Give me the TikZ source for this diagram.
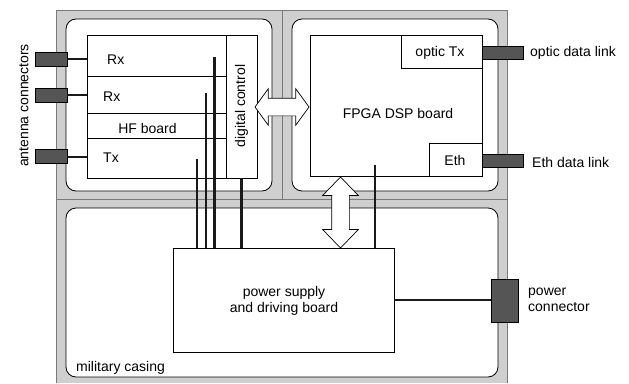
\documentclass[tikz,border=0pt]{standalone}
\usepackage{fontspec}
\setmainfont{Liberation Sans}
\usetikzlibrary{shapes.arrows}

\definecolor{bandgrey}{HTML}{CFCFCF}
\definecolor{edgegrey}{HTML}{7A7A7A}
\definecolor{conngrey}{HTML}{555555}
\definecolor{wiregrey}{HTML}{1A1A1A}

\tikzset{
  board/.style={draw, fill=white, inner sep=0pt, line width=0.8pt},
  bay/.style={draw, fill=white, rounded corners=10pt, inner sep=0pt, line width=0.8pt},
  plug/.style={draw, fill=conngrey, inner sep=0pt, line width=0.6pt},
  wire/.style={draw=wiregrey, line width=2.3pt},
  dblarrow/.style={double arrow, draw, fill=white, inner sep=0pt, line width=0.7pt},
  lbl/.style={inner sep=0pt, anchor=west},
}

\begin{document}
\begin{tikzpicture}[x=1pt, y=-1pt, font=\fontsize{14}{16}\selectfont]
\useasboundingbox (0,0) rectangle (629,383);

% Gehaeuse
\fill[bandgrey] (56,10) rectangle (507,383);
\draw[edgegrey, line width=0.8pt] (56,383) -- (56,10) -- (507,10) -- (507,383);
\draw[edgegrey, line width=0.8pt] (282,10) -- (282,199);
\draw[edgegrey, line width=0.8pt] (56,199) -- (507,199);

% Kammern
\node[bay, minimum width=206pt, minimum height=172pt] (bayhf) at (169,105) {};
\node[bay, minimum width=206pt, minimum height=172pt] (baydsp) at (395,105) {};
\node[bay, minimum width=432pt, minimum height=169pt] (baypwr) at (282,292.5) {};

% Steckverbinder
\node[plug, minimum width=32pt, minimum height=14pt] (ant1) at (51,59) {};
\node[plug, minimum width=32pt, minimum height=14pt] (ant2) at (51,95) {};
\node[plug, minimum width=32pt, minimum height=14pt] (ant3) at (51,156.5) {};
\node[plug, minimum width=41pt, minimum height=13pt] (optplug) at (502.5,52.5) {};
\node[plug, minimum width=41pt, minimum height=13pt] (ethplug) at (502.5,160.5) {};
\node[plug, minimum width=27pt, minimum height=43pt] (pwrplug) at (504.5,300.5) {};

% HF board
\node[board, minimum width=139pt, minimum height=41pt] (rx1) at (156.5,55.5) {};
\node[board, minimum width=139pt, minimum height=37pt] (rx2) at (156.5,94.5) {};
\node[board, minimum width=139pt, minimum height=25pt] (hf) at (156.5,125.5) {};
\node[board, minimum width=139pt, minimum height=40pt] (tx) at (156.5,158) {};
\node[board, minimum width=31pt, minimum height=143pt] (dig) at (241.5,106.5) {};

\node[lbl] (rx1txt) at (107,60) {Rx};
\node[lbl] (rx2txt) at (103,97) {Rx};
\node[inner sep=0pt] (hftxt) at (147.5,128) {HF board};
\node[lbl] (txtxt) at (103,158) {Tx};
\node[inner sep=0pt, rotate=90] (digtxt) at (241.5,106) {digital control};

% FPGA board
\node[board, minimum width=172pt, minimum height=141pt] (dsp) at (396,105.5) {};
\node[board, minimum width=81pt, minimum height=33pt] (opt) at (441.5,51.5) {};
\node[board, minimum width=53pt, minimum height=33pt] (eth) at (455.5,159.5) {};
\node[inner sep=0pt] (dsptxt) at (398,113) {FPGA DSP board};
\node[inner sep=0pt] (opttxt) at (440,53) {optic Tx};
\node[inner sep=0pt] (ethtxt) at (455,160) {Eth};

% Netzteil
\node[board, minimum width=221pt, minimum height=104pt] (pwr) at (283.5,300) {};
\node[inner sep=0pt, align=center] (pwrtxt) at (284,300.5) {power supply\\and driving board};

% Busse
\node[dblarrow, minimum height=54pt, inner ysep=8.5pt, double arrow head extend=9.5pt,
      double arrow tip angle=108] (hfbus) at (282,107) {};
\node[dblarrow, rotate=90, minimum height=71pt, inner ysep=8.5pt, double arrow head extend=9pt,
      double arrow tip angle=88] (pwrbus) at (340.5,212.5) {};

% Leitungen
\coordinate (w1) at (197,159);
\coordinate (w2) at (206,93);
\coordinate (w3) at (214.5,57);
\coordinate (w4) at (375,165);
\draw[wire] (w1) -- (w1 |- pwr.north);
\draw[wire] (w2) -- (w2 |- pwr.north);
\draw[wire] (w3) -- (w3 |- pwr.north);
\draw[wire] (dig.south) -- (dig.south |- pwr.north);
\draw[wire] (w4) -- (w4 |- pwr.north);
\draw[wire, line width=2pt] (ant1.east) -- (ant1.east -| rx1.west);
\draw[wire, line width=2pt] (ant2.east) -- (ant2.east -| rx2.west);
\draw[wire, line width=2pt] (ant3.east) -- (ant3.east -| tx.west);
\draw[wire, line width=2pt] (pwr.east) -- (pwr.east -| pwrplug.west);

% Beschriftungen
\node[inner sep=0pt, rotate=90] (anttxt) at (24,105.5) {antenna connectors};
\node[lbl] (opttxt2) at (530,53) {optic data link};
\node[lbl] (ethtxt2) at (532,162) {Eth data link};
\node[lbl, align=left] (pwrtxt2) at (528,300) {power\\connector};
\node[lbl] (casetxt) at (76,368) {military casing};

\end{tikzpicture}
\end{document}
